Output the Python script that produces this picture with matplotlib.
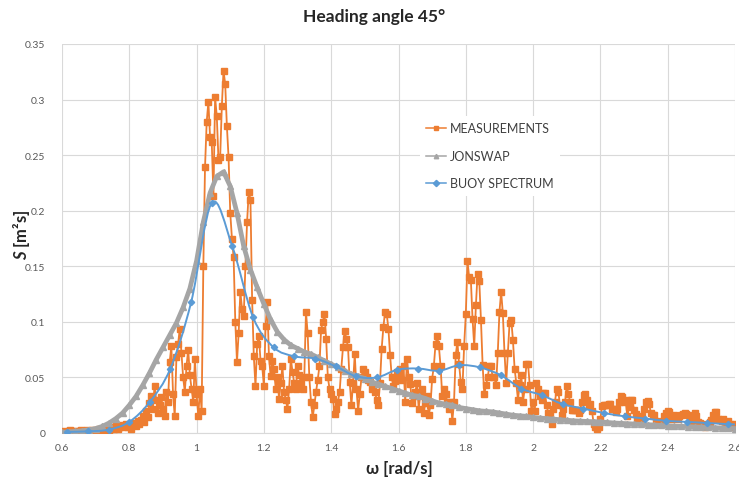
import numpy as np
import matplotlib
matplotlib.use("Agg")
import matplotlib.pyplot as plt
from matplotlib.path import Path
from matplotlib.patches import PathPatch
from matplotlib.lines import Line2D

# Виміряний спектр: частоти з кроком 0.005 рад/с від 0.6 до 2.6
meas_start = 0.6
meas_step = 0.005
meas_values = [
    0.001, 0.002, 0.001, 0.001, 0.002, 0.003, 0.002, 0.001, 0.002, 0.001,
    0.002, 0.003, 0.002, 0.001, 0.002, 0.003, 0.002, 0.002, 0.003, 0.002,
    0.003, 0.002, 0.004, 0.003, 0.002, 0.004, 0.003, 0.005, 0.003, 0.004,
    0.005, 0.004, 0.006, 0.004, 0.005, 0.007, 0.005, 0.006, 0.008, 0.005,
    0.006, 0.004, 0.007, 0.009, 0.006, 0.011, 0.008, 0.012, 0.015, 0.010,
    0.020, 0.014, 0.027, 0.033, 0.022, 0.042, 0.030, 0.018, 0.025, 0.032,
    0.022, 0.015, 0.037, 0.028, 0.064, 0.078, 0.035, 0.015, 0.068, 0.080,
    0.094, 0.072, 0.050, 0.037, 0.060, 0.075, 0.052, 0.040, 0.028, 0.067,
    0.035, 0.015, 0.040, 0.020, 0.150, 0.239, 0.280, 0.298, 0.266, 0.262,
    0.213, 0.302, 0.285, 0.246, 0.248, 0.294, 0.326, 0.314, 0.276, 0.248,
    0.198, 0.175, 0.158, 0.100, 0.064, 0.090, 0.127, 0.112, 0.105, 0.150,
    0.190, 0.217, 0.210, 0.120, 0.069, 0.042, 0.080, 0.087, 0.065, 0.060,
    0.042, 0.096, 0.118, 0.069, 0.051, 0.065, 0.058, 0.040, 0.050, 0.031,
    0.045, 0.060, 0.037, 0.030, 0.022, 0.040, 0.067, 0.055, 0.045, 0.040,
    0.060, 0.052, 0.045, 0.040, 0.050, 0.109, 0.090, 0.050, 0.028, 0.014,
    0.025, 0.037, 0.048, 0.060, 0.093, 0.100, 0.107, 0.085, 0.050, 0.040,
    0.035, 0.031, 0.017, 0.022, 0.028, 0.037, 0.058, 0.077, 0.092, 0.085,
    0.077, 0.046, 0.025, 0.045, 0.071, 0.040, 0.020, 0.035, 0.050, 0.058,
    0.055, 0.050, 0.048, 0.046, 0.040, 0.043, 0.037, 0.030, 0.025, 0.045,
    0.076, 0.095, 0.109, 0.107, 0.094, 0.070, 0.050, 0.042, 0.047, 0.055,
    0.052, 0.058, 0.048, 0.060, 0.028, 0.067, 0.050, 0.044, 0.027, 0.033,
    0.037, 0.045, 0.022, 0.035, 0.040, 0.018, 0.027, 0.033, 0.016, 0.025,
    0.049, 0.060, 0.080, 0.087, 0.078, 0.060, 0.033, 0.040, 0.035, 0.028,
    0.022, 0.028, 0.011, 0.028, 0.070, 0.082, 0.062, 0.046, 0.040, 0.078,
    0.107, 0.155, 0.140, 0.138, 0.103, 0.078, 0.115, 0.143, 0.137, 0.102,
    0.061, 0.035, 0.043, 0.050, 0.060, 0.060, 0.050, 0.050, 0.043, 0.072,
    0.109, 0.127, 0.108, 0.072, 0.045, 0.072, 0.099, 0.102, 0.084, 0.058,
    0.045, 0.030, 0.043, 0.052, 0.028, 0.040, 0.062, 0.062, 0.043, 0.020,
    0.028, 0.020, 0.045, 0.040, 0.033, 0.030, 0.036, 0.036, 0.025, 0.018,
    0.016, 0.008, 0.022, 0.028, 0.040, 0.037, 0.025, 0.016, 0.022, 0.028,
    0.042, 0.035, 0.028, 0.021, 0.021, 0.021, 0.021, 0.018, 0.021, 0.028,
    0.034, 0.035, 0.030, 0.025, 0.026, 0.020, 0.008, 0.005, 0.004, 0.005,
    0.013, 0.024, 0.025, 0.025, 0.025, 0.026, 0.026, 0.022, 0.022, 0.019,
    0.022, 0.028, 0.033, 0.032, 0.028, 0.030, 0.015, 0.023, 0.030, 0.030,
    0.021, 0.017, 0.013, 0.012, 0.012, 0.015, 0.022, 0.028, 0.029, 0.026,
    0.018, 0.016, 0.016, 0.011, 0.010, 0.008, 0.009, 0.011, 0.015, 0.018,
    0.020, 0.019, 0.013, 0.014, 0.016, 0.015, 0.013, 0.015, 0.016, 0.017,
    0.018, 0.017, 0.016, 0.013, 0.011, 0.014, 0.018, 0.015, 0.010, 0.009,
    0.008, 0.006, 0.005, 0.007, 0.008, 0.010, 0.012, 0.016, 0.019, 0.019,
    0.013, 0.012, 0.011, 0.013, 0.007, 0.009, 0.011, 0.008, 0.005, 0.006,
    0.008,
]

# Спектр JONSWAP з кроком 0.02 рад/с
jonswap_start = 0.6
jonswap_step = 0.02
jonswap_values = [
    0.0005, 0.001, 0.0015, 0.002, 0.003, 0.004, 0.006, 0.009, 0.013, 0.018,
    0.025, 0.033, 0.043, 0.054, 0.066, 0.077, 0.088, 0.099, 0.113, 0.130,
    0.155, 0.190, 0.216, 0.231, 0.235, 0.222, 0.198, 0.168, 0.147, 0.131,
    0.116, 0.102, 0.091, 0.084, 0.079, 0.076, 0.073, 0.071, 0.068, 0.065,
    0.062, 0.059, 0.056, 0.053, 0.051, 0.049, 0.046, 0.044, 0.042, 0.040,
    0.038, 0.036, 0.034, 0.033, 0.031, 0.029, 0.027, 0.026, 0.025, 0.023,
    0.022, 0.021, 0.020, 0.0195, 0.019, 0.018, 0.017, 0.016, 0.0155, 0.015,
    0.014, 0.0135, 0.013, 0.0125, 0.012, 0.0115, 0.011, 0.0107, 0.0104, 0.0102,
    0.010, 0.0095, 0.009, 0.0087, 0.0084, 0.0081, 0.0078, 0.0075, 0.0072, 0.0068,
    0.0065, 0.0062, 0.006, 0.0058, 0.0055, 0.0053, 0.005, 0.0048, 0.0045, 0.0042,
    0.004,
]

# Спектр буя
buoy_omega = [0.616, 0.677, 0.739, 0.800, 0.861, 0.922, 0.984, 1.045, 1.106,
              1.168, 1.229, 1.290, 1.352, 1.413, 1.474, 1.536, 1.597, 1.658,
              1.720, 1.781, 1.842, 1.904, 1.965, 2.026, 2.088, 2.149, 2.210,
              2.272, 2.333, 2.394, 2.456, 2.517, 2.578, 2.639]
buoy_values = [0.001, 0.0015, 0.003, 0.010, 0.028, 0.058, 0.118, 0.207, 0.168,
               0.104, 0.077, 0.069, 0.067, 0.060, 0.051, 0.050, 0.057, 0.058,
               0.056, 0.061, 0.059, 0.052, 0.040, 0.034, 0.026, 0.022, 0.018,
               0.015, 0.013, 0.011, 0.010, 0.009, 0.008, 0.007]

x_ticks = [0.6, 0.8, 1.0, 1.2, 1.4, 1.6, 1.8, 2.0, 2.2, 2.4, 2.6]
x_tick_labels = ["0.6", "0.8", "1", "1.2", "1.4", "1.6", "1.8", "2", "2.2", "2.4", "2.6"]
y_ticks = [0, 0.05, 0.1, 0.15, 0.2, 0.25, 0.3, 0.35]
y_tick_labels = ["0", "0.05", "0.1", "0.15", "0.2", "0.25", "0.3", "0.35"]

ORANGE = "#ED7D31"
GREY = "#A5A5A5"
BLUE = "#5B9BD5"

plt.rcParams["font.family"] = ["Lato", "DejaVu Sans"]
plt.rcParams["mathtext.fontset"] = "custom"
plt.rcParams["mathtext.rm"] = "Lato"
plt.rcParams["mathtext.bf"] = "Lato:bold"
plt.rcParams["mathtext.it"] = "Lato:italic"
plt.rcParams["mathtext.bfit"] = "Lato:italic:bold"


# Згладжена лінія як у Excel (криві Безьє через точки)
def smooth_path(xs, ys):
    pts = np.column_stack([xs, ys])
    verts = [pts[0]]
    codes = [Path.MOVETO]
    n = len(pts)
    for i in range(n - 1):
        p0 = pts[max(i - 1, 0)]
        p1 = pts[i]
        p2 = pts[i + 1]
        p3 = pts[min(i + 2, n - 1)]
        verts += [p1 + (p2 - p0) / 6, p2 - (p3 - p1) / 6, p2]
        codes += [Path.CURVE4] * 3
    return Path(verts, codes)


meas_omega = meas_start + meas_step * np.arange(len(meas_values))
jonswap_omega = jonswap_start + jonswap_step * np.arange(len(jonswap_values))

fig = plt.figure(figsize=(7.39, 4.81), dpi=100)
ax = fig.add_axes([62 / 739, 47 / 481, 673 / 739, 389 / 481])

ax.plot(meas_omega, meas_values, color=ORANGE, lw=1.3, marker="s", ms=3.8,
        zorder=3, label="MEASUREMENTS")
ax.plot(jonswap_omega, jonswap_values, color=GREY, lw=3.4, marker="^", ms=4.8,
        zorder=4, label="JONSWAP")
ax.add_patch(PathPatch(smooth_path(buoy_omega, buoy_values), fc="none",
                       ec=BLUE, lw=1.4, zorder=5))
ax.plot(buoy_omega, buoy_values, ls="none", color=BLUE, marker="D", ms=3.2,
        zorder=6)

ax.set_xlim(0.6, 2.6)
ax.set_ylim(0, 0.35)
ax.set_xticks(x_ticks)
ax.set_xticklabels(x_tick_labels)
ax.set_yticks(y_ticks)
ax.set_yticklabels(y_tick_labels)
ax.tick_params(length=0, labelsize=7.5, labelcolor="#595959")
ax.tick_params(axis="x", pad=7)
ax.tick_params(axis="y", pad=12)
ax.grid(True, color="#D9D9D9", lw=0.8)
ax.set_axisbelow(True)
for side in ["top", "right", "left"]:
    ax.spines[side].set_visible(False)
ax.spines["bottom"].set_color("#D9D9D9")

handles = [
    Line2D([], [], color=ORANGE, lw=1.1, marker="s", ms=3.2),
    Line2D([], [], color=GREY, lw=1.1, marker="^", ms=3.2),
    Line2D([], [], color=BLUE, lw=1.1, marker="D", ms=3.2),
]
leg = ax.legend(handles, ["MEASUREMENTS", "JONSWAP", "BUOY SPECTRUM"],
                loc="upper left", bbox_to_anchor=(420 / 739, 1 - 117 / 481),
                bbox_transform=fig.transFigure, borderaxespad=0, fontsize=9,
                frameon=True, fancybox=False, framealpha=1, edgecolor="none",
                facecolor="white", handlelength=1.6, handletextpad=0.3,
                labelspacing=1.25, numpoints=1, borderpad=0.5)
for t in leg.get_texts():
    t.set_color("#404040")

fig.text(374 / 739, 1 - 17 / 481, "Heading angle 45°", ha="center", va="center",
         fontsize=12.5, fontweight="bold", color="#262626")
fig.text(399 / 739, 1 - 469 / 481, "ω [rad/s]", ha="center", va="center",
         fontsize=12, fontweight="bold", color="#262626")
fig.text(22 / 739, 1 - 235 / 481, r"$\mathbfit{S}$ [m²s]", ha="center", va="center",
         rotation=90, fontsize=12, fontweight="bold", color="#262626")

fig.savefig("out.png", dpi=100)
